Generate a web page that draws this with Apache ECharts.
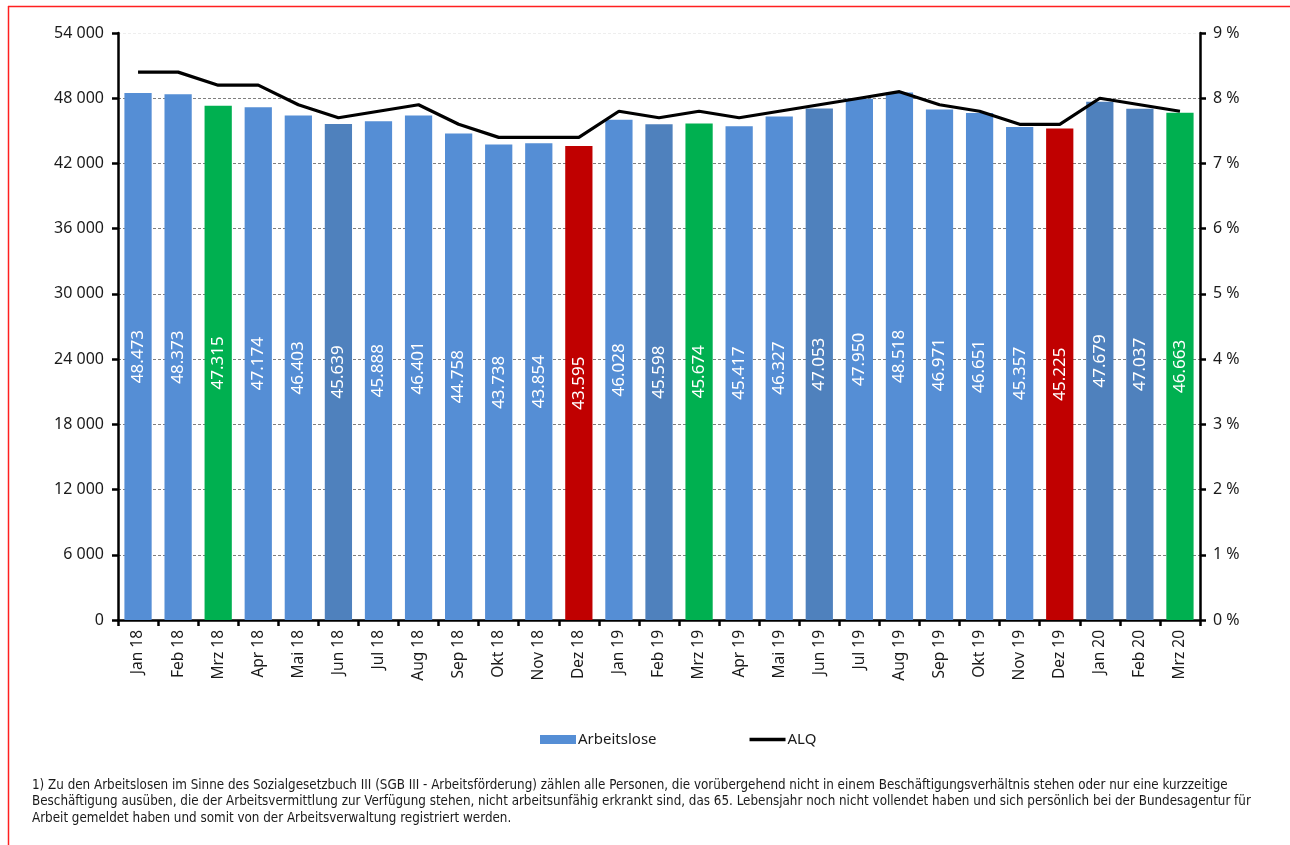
<!DOCTYPE html>
<html>
<head>
<meta charset="utf-8">
<script src="https://cdn.jsdelivr.net/npm/echarts@6/dist/echarts.min.js"></script>
<style>
html,body{margin:0;padding:0;background:#fff;}
#c{width:1290px;height:845px;}
</style>
</head>
<body>
<div id="c"></div>
<script>
const categories = ['Jan 18','Feb 18','Mrz 18','Apr 18','Mai 18','Jun 18','Jul 18','Aug 18','Sep 18','Okt 18','Nov 18','Dez 18',
  'Jan 19','Feb 19','Mrz 19','Apr 19','Mai 19','Jun 19','Jul 19','Aug 19','Sep 19','Okt 19','Nov 19','Dez 19',
  'Jan 20','Feb 20','Mrz 20'];
const arbeitslose = [48473,48373,47315,47174,46403,45639,45888,46401,44758,43738,43854,43595,
  46028,45598,45674,45417,46327,47053,47950,48518,46971,46651,45357,45225,
  47679,47037,46663];
const alq = [8.4,8.4,8.2,8.2,7.9,7.7,7.8,7.9,7.6,7.4,7.4,7.4,
  7.8,7.7,7.8,7.7,7.8,7.9,8.0,8.1,7.9,7.8,7.6,7.6,
  8.0,7.9,7.8];
const leftTicks = [0,6000,12000,18000,24000,30000,36000,42000,48000,54000];
const rightTicks = [0,1,2,3,4,5,6,7,8,9];
const footnote = [
  '1) Zu den Arbeitslosen im Sinne des Sozialgesetzbuch III (SGB III - Arbeitsförderung) zählen alle Personen, die vorübergehend nicht in einem Beschäftigungsverhältnis stehen oder nur eine kurzzeitige',
  'Beschäftigung ausüben, die der Arbeitsvermittlung zur Verfügung stehen, nicht arbeitsunfähig erkrankt sind, das 65. Lebensjahr noch nicht vollendet haben und sich persönlich bei der Bundesagentur für',
  'Arbeit gemeldet haben und somit von der Arbeitsverwaltung registriert werden.'
];

// styling
const BLUE = '#558ED5', DARK = '#4F81BD', GREEN = '#00B050', RED = '#C00000';
const darkIdx = [5,13,17,24,25], greenIdx = [2,14,26], redIdx = [11,23];
function barColor(i){
  if (greenIdx.includes(i)) return GREEN;
  if (redIdx.includes(i)) return RED;
  if (darkIdx.includes(i)) return DARK;
  return BLUE;
}
const FONT = '"Noto Sans", "Open Sans", sans-serif';
const fmtThousandSpace = v => String(v).replace(/\B(?=(\d{3})+(?!\d))/g, ' ');
const fmtThousandDot = v => String(v).replace(/\B(?=(\d{3})+(?!\d))/g, '.');

const chart = echarts.init(document.getElementById('c'), null, {renderer:'canvas'});
const splitColors = leftTicks.map((t,i)=> i === leftTicks.length-1 ? '#eeeeee' : '#7f7f7f');

chart.setOption({
  animation:false,
  backgroundColor:'#fff',
  textStyle:{fontFamily:FONT},
  grid:{left:118, right:90, top:33, bottom:225, containLabel:false},
  legend:{
    left:535, top:727, itemWidth:36, itemHeight:9, itemGap:93,
    textStyle:{fontSize:15, color:'#1a1a1a', fontFamily:FONT, padding:[0,0,0,-3]},
    data:[
      {name:'Arbeitslose', icon:'rect', itemStyle:{color:BLUE}},
      {name:'ALQ', icon:'path://M0 0 H36 V3.5 H0 Z', itemStyle:{color:'#000'}}
    ]
  },
  xAxis:{
    type:'category', data:categories, boundaryGap:true,
    axisLine:{lineStyle:{color:'#000', width:2.5}},
    axisTick:{show:true, length:6, lineStyle:{color:'#000', width:2.5}},
    axisLabel:{rotate:90, fontSize:15.5, color:'#1a1a1a', margin:10, fontFamily:FONT}
  },
  yAxis:[
    {type:'value', min:0, max:54000, interval:6000, position:'left',
     axisLine:{show:true, lineStyle:{color:'#000', width:2.5}},
     axisTick:{show:true, inside:false, length:6, lineStyle:{color:'#000', width:2.5}},
     axisLabel:{formatter:fmtThousandSpace, fontSize:16, color:'#1a1a1a', margin:14, fontFamily:FONT},
     splitLine:{show:true, lineStyle:{color:splitColors, type:[3,2], width:1}}
    },
    {type:'value', min:0, max:9, interval:1, position:'right',
     axisLine:{show:true, lineStyle:{color:'#000', width:2.5}},
     axisTick:{show:true, length:6, lineStyle:{color:'#000', width:2.5}},
     axisLabel:{formatter:'{value} %', fontSize:16, color:'#1a1a1a', margin:13, fontFamily:FONT},
     splitLine:{show:false}
    }
  ],
  series:[
    {name:'Arbeitslose', type:'bar', yAxisIndex:0, barCategoryGap:'32%',
     itemStyle:{color:BLUE},
     data:arbeitslose.map((v,i)=>({value:v, itemStyle:{color:barColor(i)}})),
     label:{show:true, position:'inside', rotate:90, color:'#fff', fontSize:17,
       fontFamily:FONT, formatter:p=>fmtThousandDot(p.value)}
    },
    {name:'ALQ', type:'line', yAxisIndex:1, data:alq, symbol:'none', showSymbol:false,
     lineStyle:{color:'#000', width:3.2}, itemStyle:{color:'#000'}, z:5}
  ],
  graphic:[
    {type:'line', shape:{x1:8, y1:6.5, x2:1290, y2:6.5}, style:{stroke:'#ff2020', lineWidth:1.5}, silent:true},
    {type:'line', shape:{x1:8.5, y1:6, x2:8.5, y2:845}, style:{stroke:'#ff2020', lineWidth:1.5}, silent:true},
    ...footnote.map((t,i)=>({type:'text', left:32, top:779+i*16.5,
      style:{text:t, fontSize:13.3, fill:'#1a1a1a', fontFamily:'"Liberation Sans Narrow", "DejaVu Sans Condensed", sans-serif'}}))
  ]
});
</script>
</body>
</html>
